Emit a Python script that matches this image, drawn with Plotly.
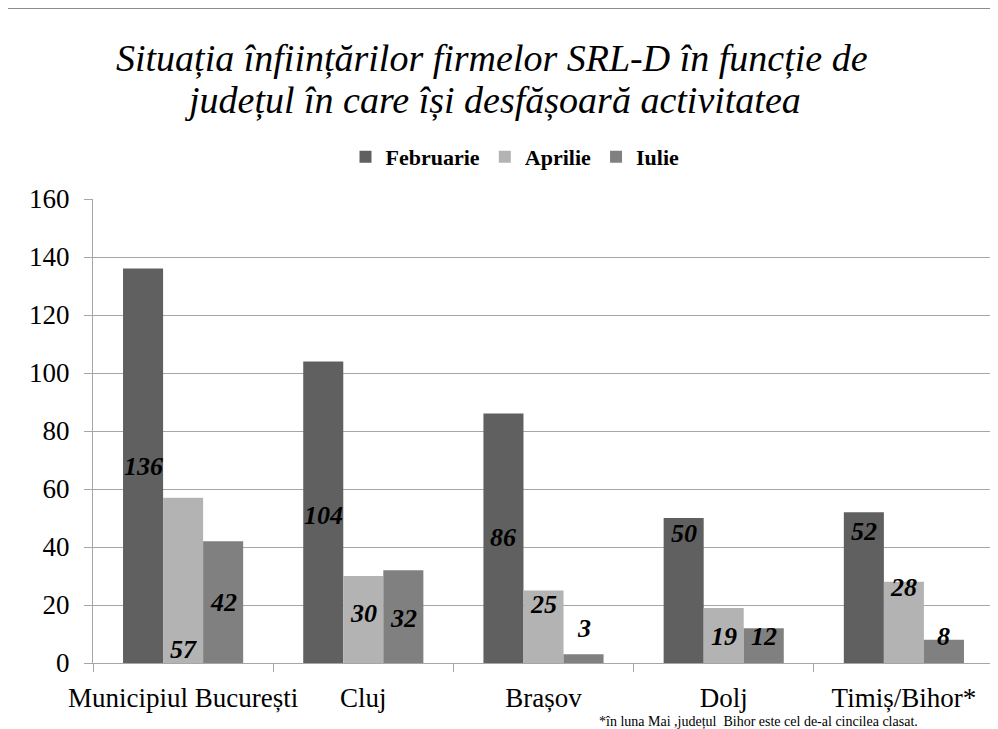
import plotly.graph_objects as go

categories = ["Municipiul București", "Cluj", "Brașov", "Dolj", "Timiș/Bihor*"]
series_names = ["Februarie", "Aprilie", "Iulie"]
februarie = [136, 104, 86, 50, 52]
aprilie = [57, 30, 25, 19, 28]
iulie = [42, 32, 3, 12, 8]
y_ticks = [0, 20, 40, 60, 80, 100, 120, 140, 160]
title_lines = ["Situația înființărilor firmelor SRL-D în funcție de",
               "județul în care își desfășoară activitatea"]
footnote = "*în luna Mai ,județul  Bihor este cel de-al cincilea clasat."

# label vertical anchor positions (value units), as placed in the original
label_pos_feb = [67.6, 51, 43.4, 44.8, 45.2]
label_pos_apr = [4.5, 17.2, 20.3, 9.3, 25.9]
label_pos_jul = [20.7, 15.5, 12, 9.3, 9.3]

colors = ["#606060", "#b3b3b3", "#808080"]
OFF = 8  # page body margin
W, H = 998 - OFF, 729 - OFF
ML, MR, MT, MB = 93 - OFF, 4, 199 - OFF, 66
serif = "Liberation Serif"

fig = go.Figure()
for name, vals, col in zip(series_names, [februarie, aprilie, iulie], colors):
    fig.add_trace(go.Bar(name=name, x=categories, y=vals, marker=dict(color=col, line=dict(width=0))))

plot_w = W - ML - MR
plot_h = H - MT - MB
bar_px = plot_w / len(categories) * (1 - 1/3) / 3
for k, (vals, pos) in enumerate(zip([februarie, aprilie, iulie], [label_pos_feb, label_pos_apr, label_pos_jul])):
    for c, v, p in zip(categories, vals, pos):
        fig.add_annotation(x=c, y=p, xref="x", yref="y", text=str(v), showarrow=False,
                           xshift=(k - 1) * bar_px,
                           font=dict(family=serif, size=26, color="black", style="italic", weight="bold"))

def px_x(x):
    return (x - OFF - ML) / plot_w

def px_y(y):
    return (H - MB - (y - OFF)) / plot_h

# title lines
for line, yc in zip(title_lines, [58, 100]):
    fig.add_annotation(x=px_x(492), y=px_y(yc), xref="paper", yref="paper", text=line, showarrow=False,
                       xanchor="center", yanchor="middle",
                       font=dict(family=serif, size=38, color="black", style="italic"))

# footnote
fig.add_annotation(x=px_x(597), y=px_y(712), xref="paper", yref="paper", text=footnote,
                   showarrow=False, xanchor="left", yanchor="top",
                   font=dict(family=serif, size=14, color="black"))

# outer chart border (left and top)
fig.add_shape(type="line", xref="paper", yref="paper", x0=px_x(5), x1=px_x(5), y0=px_y(740), y1=px_y(8),
              line=dict(color="#8c8c8c", width=2))
fig.add_shape(type="line", xref="paper", yref="paper", x0=px_x(5), x1=px_x(1010), y0=px_y(8), y1=px_y(8),
              line=dict(color="#8c8c8c", width=2))

fig.update_layout(
    width=W, height=H,
    margin=dict(l=ML, r=MR, t=MT, b=MB, autoexpand=False),
    paper_bgcolor="white", plot_bgcolor="white",
    barmode="group", bargap=1/3, bargroupgap=0,
    legend=dict(orientation="h", x=(515 - OFF) / W, xanchor="center", xref="container", y=1 - (157 - OFF) / H,
                yanchor="middle", yref="container",
                font=dict(family=serif, size=22, color="black", weight="bold"),
                itemwidth=30, traceorder="normal", bgcolor="rgba(0,0,0,0)"),
    showlegend=True,
    font=dict(family=serif, color="black"),
)
fig.update_yaxes(range=[0, 160], tickvals=y_ticks, showgrid=True, gridcolor="#a6a6a6", gridwidth=1,
                 showline=True, linecolor="#a6a6a6", linewidth=1, ticks="outside", ticklen=8, tickcolor="#a6a6a6",
                 tickfont=dict(family=serif, size=27, color="black"), ticklabelstandoff=9, zeroline=False)
fig.update_xaxes(showline=True, linecolor="#a6a6a6", linewidth=1, ticks="outside", ticklen=8, tickcolor="#a6a6a6",
                 tickson="boundaries", tickangle=0, tickfont=dict(family=serif, size=27, color="black"),
                 ticklabelstandoff=11, showgrid=False)

fig.write_html("out.html")
